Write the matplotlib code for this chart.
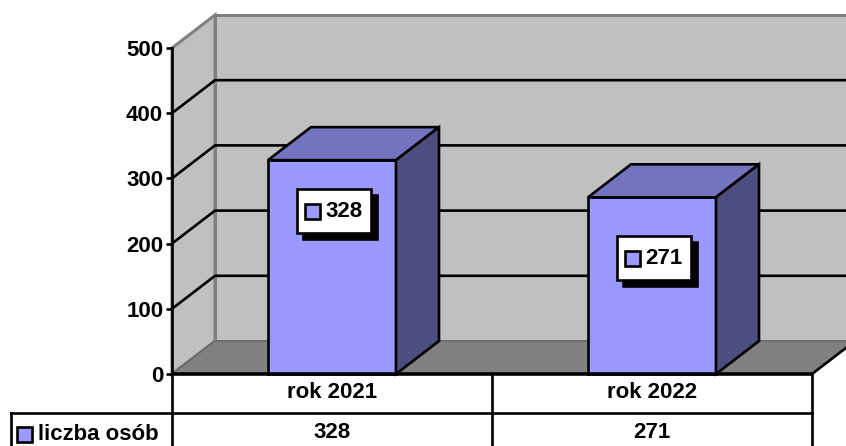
import numpy as np
import matplotlib
matplotlib.use('Agg')
from matplotlib import pyplot as plt
from matplotlib.patches import Polygon, Rectangle

categories = ['rok 2021', 'rok 2022']
values = [328, 271]
series_name = 'liczba osób'
y_ticks = [0, 100, 200, 300, 400, 500]

plt.rcParams['font.family'] = ['Liberation Sans', 'DejaVu Sans']
plt.rcParams['font.weight'] = 'bold'

W, H = 846, 446
x0, x1 = 172, 812  # front of the plot in pixels
y0, y1 = 374, 48

fig = plt.figure(figsize=(W / 100, H / 100), dpi=100)
ax = fig.add_axes([x0 / W, 1 - y0 / H, (x1 - x0) / W, (y0 - y1) / H])
ax.set_xlim(0, len(categories))
ax.set_ylim(0, 500)
ax.patch.set_visible(False)

# one pixel in data units
px = len(categories) / (x1 - x0)
py = 500 / (y0 - y1)
dx, dy = 43 * px, 33 * py
lw = 1.9
fs = 16
n = len(categories)


def poly(pts, fc, ec='black', z=2, w=lw):
    ax.add_patch(Polygon(pts, closed=True, fc=fc, ec=ec, lw=w, zorder=z,
                         clip_on=False, joinstyle='miter'))


# walls and floor
poly([(0, 0), (dx, dy), (dx, 500 + dy), (0, 500)], '#c0c0c0', '#808080', 1, 2.2)
poly([(dx, dy), (n + dx, dy), (n + dx, 500 + dy), (dx, 500 + dy)], '#c0c0c0', '#808080', 1, 2.2)
poly([(0, 0), (n, 0), (n + dx, dy), (dx, dy)], '#808080', '#666666', 1, 1)

# gridlines
for t in y_ticks[1:-1]:
    ax.plot([0, dx, n + dx], [t, t + dy, t + dy], color='black', lw=lw, zorder=1.5,
            clip_on=False, solid_joinstyle='miter')
ax.plot([n, n + dx], [0, dy], color='black', lw=lw, zorder=1.5, clip_on=False)

# bars
bar_w = 0.4
for i, v in enumerate(values):
    l = i + 0.3
    r = l + bar_w
    poly([(l, 0), (r, 0), (r, v), (l, v)], '#9999ff', z=3)
    poly([(l, v), (r, v), (r + dx, v + dy), (l + dx, v + dy)], '#7373bf', z=3)
    poly([(r, 0), (r + dx, dy), (r + dx, v + dy), (r, v)], '#4d4d80', z=3)

# value labels on the bars
label_drop = [51, 61]
for i, v in enumerate(values):
    cx = i + 0.5 + 1.5 * px
    cy = v - label_drop[i] * py
    bw, bh = 74 * px, 44 * py
    ax.add_patch(Rectangle((cx - bw / 2 + 6 * px, cy - bh / 2 - 6 * py), bw, bh, fc='black', ec='black',
                           lw=lw, zorder=4, clip_on=False))
    ax.add_patch(Rectangle((cx - bw / 2, cy - bh / 2), bw, bh, fc='white', ec='black',
                           lw=lw, zorder=5, clip_on=False))
    ax.add_patch(Rectangle((cx - 29 * px, cy - 7.5 * py), 15 * px, 15 * py, fc='#9999ff', ec='black',
                           lw=lw, zorder=6, clip_on=False))
    ax.text(cx + 10 * px, cy, str(v), fontsize=fs, ha='center', va='center', zorder=6)

# axes
for s in ['top', 'right', 'bottom']:
    ax.spines[s].set_visible(False)
ax.spines['left'].set_linewidth(lw)
ax.set_yticks(y_ticks)
ax.tick_params(axis='y', length=4.3, width=lw, pad=2, labelsize=fs)
ax.set_xticks([])
ax.plot([0, n], [0, 0], color='black', lw=2.6, zorder=7, clip_on=False, solid_capstyle='butt')

# data table under the chart
row1 = -39 * py
row2 = -74 * py
left = -161 * px
ax.plot([0, 0], [0, row2], color='black', lw=lw, clip_on=False)
ax.plot([left, n], [row1, row1], color='black', lw=lw, clip_on=False)
ax.plot([left, left], [row1, row2], color='black', lw=lw, clip_on=False)
ax.plot([1, 1], [0, row2], color='black', lw=lw, clip_on=False)
ax.plot([n, n], [0, row2], color='black', lw=lw, clip_on=False)
for i, c in enumerate(categories):
    ax.text(i + 0.5, -19 * py, c, fontsize=fs, ha='center', va='center', clip_on=False)
    ax.text(i + 0.5, -58 * py, str(values[i]), fontsize=fs, ha='center', va='center', clip_on=False)
ax.add_patch(Rectangle((-155 * px, -68 * py), 15 * px, 15 * py, fc='#9999ff', ec='black', lw=lw, clip_on=False))
ax.text(-134 * px, -60 * py, series_name, fontsize=fs, ha='left', va='center', clip_on=False)

fig.savefig('out.png', dpi=100)
